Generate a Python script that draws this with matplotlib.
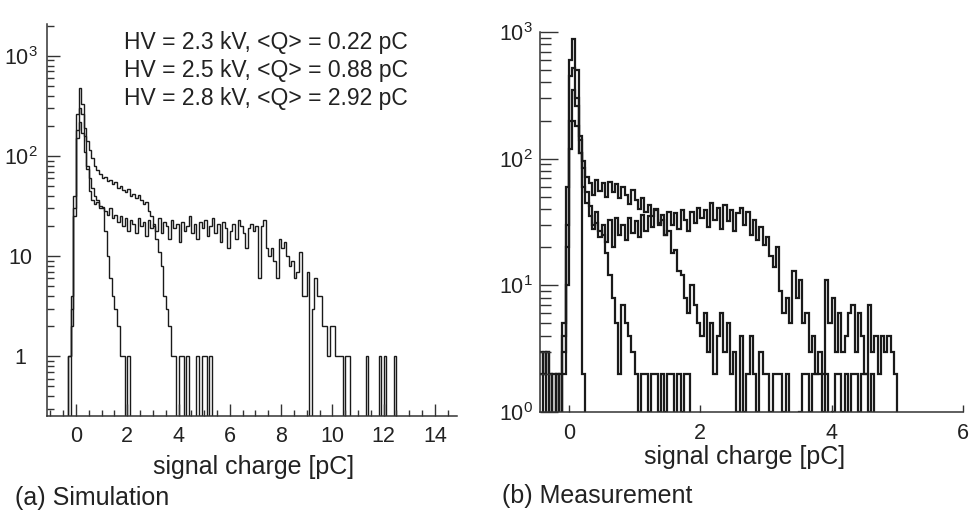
import numpy as np
import matplotlib
matplotlib.use('Agg')
import matplotlib.pyplot as plt
import matplotlib.ticker as mtick

plt.rcParams['font.family'] = ['Liberation Sans', 'DejaVu Sans']
plt.rcParams['mathtext.fontset'] = 'custom'
plt.rcParams['mathtext.rm'] = 'Liberation Sans'
plt.rcParams['mathtext.it'] = 'Liberation Sans:italic'
plt.rcParams['mathtext.bf'] = 'Liberation Sans:bold'

# ---- (a) simulation: counts per 0.1 pC bin, first bin starts at -0.4 pC
sim_start = -0.4
sim_width = 0.1
sim_23kv = [0, 1, 4, 40, 260, 480, 330, 160, 80, 45,
            36, 33, 35, 30, 31, 18, 10, 6, 4, 3,
            2, 1, 1, 0, 1, 0]
sim_25kv = [0, 0, 2, 25, 150, 300, 260, 190, 140, 115,
            95, 80, 72, 66, 60, 62, 56, 58, 52, 55,
            48, 50, 46, 44, 47, 40, 42, 38, 41, 36,
            33, 35, 28, 25, 20, 15, 11, 8, 4, 3,
            2, 1, 1, 0, 1, 1, 0, 1, 0, 0,
            0, 1, 0, 1, 1, 0, 1, 0]
sim_28kv = [0, 1, 3, 30, 180, 220, 170, 110, 75, 60,
            48, 40, 36, 32, 30, 28, 26, 30, 24, 26,
            22, 25, 20, 24, 18, 23, 21, 17, 24, 20,
            22, 16, 23, 19, 21, 18, 24, 17, 22, 20,
            15, 23, 19, 21, 14, 22, 18, 20, 25, 17,
            21, 15, 22, 19, 23, 16, 20, 24, 17, 21,
            14, 22, 19, 12, 18, 21, 15, 23, 20, 17,
            12, 19, 21, 18, 20, 6, 20, 23, 12, 10,
            12, 9, 6, 15, 12, 14, 10, 8, 9, 6,
            7, 11, 4, 4, 7, 0, 3, 6, 4, 4,
            2, 2, 1, 2, 2, 1, 1, 1, 0, 1,
            1, 0, 0, 0, 0, 0, 0, 1, 0, 0,
            0, 0, 1, 0, 1, 0, 0, 0, 1, 0]
sim_labels = ['HV = 2.3 kV, <Q> = 0.22 pC',
              'HV = 2.5 kV, <Q> = 0.88 pC',
              'HV = 2.8 kV, <Q> = 2.92 pC']

# ---- (b) measurement: counts per 0.05 pC bin, first bin starts at -0.45 pC
meas_start = -0.45
meas_width = 0.05
meas_ped = [0, 0, 0, 0, 0, 0, 0, 2, 30, 600,
            880, 500, 110, 2, 0]
meas_low = [2, 3, 0, 2, 0, 2, 0, 5, 60, 450,
            520, 300, 150, 85, 55, 42, 30, 38, 27, 25,
            18, 12, 8, 5, 2, 7, 5, 4, 3, 2,
            1, 2, 2, 1, 2, 2, 1, 2, 1, 2,
            2, 0, 2, 1, 2, 2, 0]
meas_mid = [0, 2, 3, 0, 2, 0, 2, 3, 20, 200,
            350, 260, 140, 95, 72, 64, 52, 68, 56, 64,
            50, 66, 55, 63, 49, 60, 52, 44, 57, 47,
            40, 49, 38, 43, 35, 40, 31, 33, 25, 27,
            18, 19, 13, 12, 8, 6, 10, 7, 5, 4,
            6, 3, 5, 2, 4, 6, 3, 5, 2, 3,
            1, 4, 1, 2, 4, 2, 1, 3, 2, 2,
            1, 2, 2, 2, 1, 2, 0, 0, 0, 1,
            2, 2, 1, 2, 2, 2, 1, 2, 0, 1,
            2, 2, 1, 2, 0, 2, 2, 1, 2, 2,
            1, 2, 0]
meas_high = [3, 2, 3, 2, 0, 2, 0, 4, 10, 120,
             200, 180, 110, 60, 45, 35, 28, 31, 24, 30,
             22, 33, 20, 34, 25, 30, 23, 34, 26, 32,
             24, 36, 27, 35, 29, 39, 30, 36, 25, 38,
             30, 37, 28, 39, 33, 27, 38, 31, 41, 34,
             39, 29, 45, 33, 41, 28, 43, 32, 39, 27,
             37, 41, 30, 38, 25, 33, 23, 29, 21, 24,
             17, 14, 20, 9, 6, 8, 5, 13, 8, 11,
             5, 6, 3, 4, 2, 3, 2, 11, 5, 8,
             3, 6, 3, 4, 6, 7, 3, 6, 4, 2,
             7, 3, 4, 2, 4, 3, 4, 3, 2, 0]

W, H = 973, 513
fig = plt.figure(figsize=(W / 100, H / 100), dpi=100)
ink = '#1a1a1a'


def draw_hist(ax, counts, start, width, lw):
    edges = start + width * np.arange(len(counts) + 1)
    ax.stairs(counts, edges, color=ink, linewidth=lw)


def style_axes(ax):
    for side in ('top', 'right'):
        ax.spines[side].set_visible(False)
    for side in ('left', 'bottom'):
        ax.spines[side].set_linewidth(1.1)
        ax.spines[side].set_color('#333333')
    ax.tick_params(which='both', direction='in', colors='#333333',
                   labelcolor='#222222', labelsize=15.5, width=1.0)


# panel (a)
ax1 = fig.add_axes([47 / W, 1 - 416 / H, 410 / W, 392 / H])
for counts in (sim_23kv, sim_25kv, sim_28kv):
    draw_hist(ax1, counts, sim_start, sim_width, 1.0)
ax1.set_yscale('log')
ax1.set_xlim(-1.13, 14.86)
ax1.set_ylim(0.2535, 2080)
style_axes(ax1)
ax1.set_xticks([0, 2, 4, 6, 8, 10, 12, 14])
ax1.xaxis.set_minor_locator(mtick.MultipleLocator(0.5))
ax1.set_yticks([1, 10, 100, 1000],
               labels=['1', '10', r'$\mathregular{10^{2}}$', r'$\mathregular{10^{3}}$'])
ax1.yaxis.set_minor_locator(mtick.LogLocator(base=10, subs=np.arange(2, 10), numticks=20))
ax1.yaxis.set_minor_formatter(mtick.NullFormatter())
ax1.tick_params(axis='x', which='major', length=8.6, pad=7)
ax1.tick_params(axis='x', which='minor', length=4.3)
ax1.tick_params(axis='y', which='major', length=9.5, pad=19)
ax1.tick_params(axis='y', which='minor', length=5)
for lab in ax1.get_yticklabels():
    lab.set_horizontalalignment('center')

for i, txt in enumerate(sim_labels):
    fig.text(124 / W, 1 - (43 + 28 * i) / H, txt, fontsize=16.5,
             color='#222222', va='center', ha='left')
fig.text(254 / W, 1 - 467 / H, 'signal charge [pC]', fontsize=18,
         color='#222222', ha='center', va='center')
fig.text(15 / W, 1 - 498 / H, '(a) Simulation', fontsize=18,
         color='#222222', ha='left', va='center')

# panel (b)
ax2 = fig.add_axes([540 / W, 1 - 412 / H, 423 / W, 380 / H])
for counts in (meas_ped, meas_low, meas_mid, meas_high):
    draw_hist(ax2, counts, meas_start, meas_width, 1.6)
ax2.set_yscale('log')
ax2.set_xlim(-0.44, 6.0)
ax2.set_ylim(1, 1000)
style_axes(ax2)
ax2.set_xticks([0, 2, 4, 6])
ax2.xaxis.set_minor_locator(mtick.NullLocator())
ax2.set_yticks([1, 10, 100, 1000],
               labels=[r'$\mathregular{10^{0}}$', r'$\mathregular{10^{1}}$',
                       r'$\mathregular{10^{2}}$', r'$\mathregular{10^{3}}$'])
ax2.yaxis.set_minor_locator(mtick.LogLocator(base=10, subs=np.arange(2, 10), numticks=20))
ax2.yaxis.set_minor_formatter(mtick.NullFormatter())
ax2.tick_params(axis='x', which='major', length=5, pad=8)
ax2.tick_params(axis='y', which='major', length=13, pad=5)
ax2.tick_params(axis='y', which='minor', length=8)

fig.text(745 / W, 1 - 457 / H, 'signal charge [pC]', fontsize=18,
         color='#222222', ha='center', va='center')
fig.text(502 / W, 1 - 496 / H, '(b) Measurement', fontsize=18,
         color='#222222', ha='left', va='center')

fig.savefig('out.png', dpi=100)
